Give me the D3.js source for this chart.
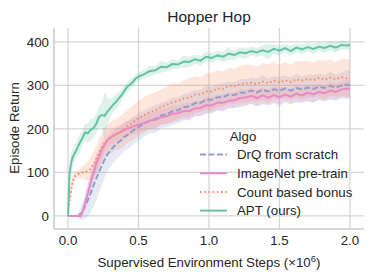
<!DOCTYPE html>
<html>
<head>
<meta charset="utf-8">
<script src="https://cdn.jsdelivr.net/npm/d3@7"></script>
<style>
  body { margin: 0; background: #fff; }
  text { font-family: "Liberation Sans", Arial, sans-serif; fill: #262626; }
</style>
</head>
<body>
<svg id="chart" width="374" height="279"></svg>
<script>
// x positions (millions of steps)
var steps = [0, 0.01, 0.02, 0.03, 0.04, 0.05, 0.06, 0.07, 0.08, 0.09, 0.1,
  0.12, 0.14, 0.16, 0.18, 0.2, 0.22, 0.24, 0.26, 0.28, 0.3, 0.32, 0.34, 0.36, 0.38, 0.4, 0.42, 0.44, 0.46, 0.48, 0.5,
  0.54, 0.58, 0.62, 0.66, 0.7, 0.74, 0.78, 0.82, 0.86, 0.9, 0.94, 0.98, 1.02, 1.06, 1.1, 1.14, 1.18, 1.22, 1.26, 1.3,
  1.34, 1.38, 1.42, 1.46, 1.5, 1.54, 1.58, 1.62, 1.66, 1.7, 1.74, 1.78, 1.82, 1.86, 1.9, 1.94, 1.98, 2.0];

var algos = ["DrQ from scratch", "ImageNet pre-train", "Count based bonus", "APT (ours)"];

var drqMean = [0, 0, 0, 0, 0, 0, 0, 0, 2, 6, 10,
  22, 36, 52, 70, 86, 102, 116, 130, 142, 150, 158, 165, 170, 175, 182, 186, 190, 196, 200, 205,
  212, 219, 223, 231, 234, 241, 243, 250, 252, 259, 260, 267, 267, 273, 273, 279, 278, 283, 284, 288,
  284, 290, 286, 291, 288, 293, 288, 294, 291, 295, 292, 297, 294, 299, 295, 300, 302, 300];
var drqSpread = [0, 0, 0, 0, 0, 2, 4, 6, 10, 15, 20,
  28, 38, 45, 50, 50, 48, 45, 42, 40, 38, 36, 35, 34, 33, 32, 32, 32, 32, 32, 32,
  30, 30, 32, 30, 30, 32, 30, 30, 32, 30, 30, 32, 30, 30, 32, 30, 30, 32, 30, 30,
  32, 34, 30, 30, 32, 30, 30, 32, 30, 30, 32, 30, 30, 32, 30, 30, 34, 32];

var imgMean = [0, 0, 0, 0, 0, 0, 0, 0, 0, 0, 8,
  28, 52, 76, 98, 120, 136, 152, 164, 175, 180, 184, 188, 191, 194, 198, 200, 203, 206, 208, 210,
  214, 219, 221, 227, 229, 235, 236, 241, 241, 247, 248, 255, 254, 261, 260, 265, 266, 271, 272, 276,
  271, 277, 272, 278, 273, 279, 274, 281, 277, 283, 280, 285, 282, 288, 285, 291, 293, 292];
var imgSpread = [0, 0, 0, 0, 0, 0, 0, 2, 4, 6, 10,
  16, 20, 22, 24, 24, 22, 22, 20, 20, 18, 18, 18, 18, 18, 18, 18, 18, 18, 18, 18,
  18, 18, 20, 18, 18, 20, 18, 18, 20, 18, 18, 20, 18, 18, 20, 18, 18, 20, 18, 18,
  20, 18, 18, 20, 22, 18, 18, 20, 18, 18, 20, 18, 18, 20, 18, 18, 20, 18];

var countMean = [15, 35, 55, 75, 88, 92, 94, 96, 97, 98, 100,
  100, 104, 108, 118, 130, 145, 158, 168, 175, 180, 184, 188, 190, 195, 200, 206, 210, 215, 220, 225,
  232, 239, 243, 251, 255, 261, 264, 270, 272, 279, 279, 286, 286, 293, 292, 299, 298, 303, 304, 306,
  303, 309, 305, 311, 307, 312, 308, 314, 311, 315, 312, 317, 313, 318, 314, 319, 316, 317];
var countSpread = [10, 15, 15, 12, 10, 8, 8, 8, 10, 12, 14,
  18, 22, 26, 30, 32, 34, 34, 35, 35, 36, 36, 36, 37, 38, 38, 38, 38, 40, 40, 40,
  42, 40, 42, 40, 42, 44, 40, 42, 44, 42, 40, 42, 44, 42, 40, 42, 40, 42, 44, 42,
  40, 42, 44, 42, 40, 42, 40, 42, 44, 42, 40, 42, 44, 42, 40, 42, 44, 42];

var aptMean = [0, 95, 120, 132, 140, 146, 152, 160, 166, 172, 178,
  192, 190, 198, 202, 212, 228, 232, 230, 240, 248, 256, 262, 270, 278, 288, 297, 302, 308, 316, 320,
  326, 333, 335, 343, 342, 349, 348, 355, 354, 360, 357, 366, 363, 369, 366, 373, 370, 376, 374, 379,
  376, 381, 377, 384, 380, 386, 379, 387, 383, 388, 384, 389, 386, 391, 387, 393, 392, 393];
var aptSpread = [0, 18, 25, 22, 20, 18, 18, 20, 20, 20, 18,
  20, 22, 25, 22, 22, 25, 28, 55, 30, 20, 18, 16, 15, 14, 12, 12, 12, 10, 10, 10,
  10, 12, 10, 13, 10, 11, 10, 14, 12, 10, 12, 10, 11, 10, 12, 14, 10, 11, 12, 10,
  10, 12, 18, 10, 11, 10, 12, 10, 11, 10, 12, 10, 11, 10, 12, 10, 10, 10];

var xTicks = [0, 0.5, 1.0, 1.5, 2.0];
var yTicks = [0, 100, 200, 300, 400];

var colors = ["#8da0cb", "#e78ac3", "#fc8d62", "#66c2a5"];
var dashes = ["6,2.5", null, "1.6,2.6", null];

var series = [
  {name: algos[0], mean: drqMean, spread: drqSpread},
  {name: algos[1], mean: imgMean, spread: imgSpread},
  {name: algos[2], mean: countMean, spread: countSpread},
  {name: algos[3], mean: aptMean, spread: aptSpread}
];

var svg = d3.select("#chart");
var pLeft = 54, pRight = 364, pTop = 28, pBottom = 229;
var fs = "13.3px";

var x = d3.scaleLinear().domain([-0.1, 2.1]).range([pLeft, pRight]);
var y = d3.scaleLinear().domain([-30, 432]).range([pBottom, pTop]);

// grid
svg.append("g").selectAll("line")
  .data(xTicks).enter().append("line")
  .attr("x1", d => x(d)).attr("x2", d => x(d))
  .attr("y1", pTop).attr("y2", pBottom)
  .attr("stroke", "#d5d5d5").attr("stroke-width", 1.3);
svg.append("g").selectAll("line")
  .data(yTicks).enter().append("line")
  .attr("y1", d => y(d)).attr("y2", d => y(d))
  .attr("x1", pLeft).attr("x2", pRight)
  .attr("stroke", "#d5d5d5").attr("stroke-width", 1.3);

// spines
svg.append("line").attr("x1", pLeft).attr("x2", pLeft).attr("y1", pTop).attr("y2", pBottom)
  .attr("stroke", "#cccccc").attr("stroke-width", 1.6);
svg.append("line").attr("x1", pLeft).attr("x2", pRight).attr("y1", pBottom).attr("y2", pBottom)
  .attr("stroke", "#cccccc").attr("stroke-width", 1.6);

// tick labels
svg.append("g").selectAll("text")
  .data(xTicks).enter().append("text")
  .attr("x", d => x(d)).attr("y", 245)
  .attr("text-anchor", "middle").style("font-size", fs)
  .text(d => d.toFixed(1));
svg.append("g").selectAll("text")
  .data(yTicks).enter().append("text")
  .attr("x", 49).attr("y", d => y(d) + 4.8)
  .attr("text-anchor", "end").style("font-size", fs)
  .text(d => d);

// bands and lines
var area = d3.area()
  .x((d, i) => x(steps[i]))
  .y0(d => y(d[0] - d[1]))
  .y1(d => y(d[0] + d[1]));
var line = d3.line()
  .x((d, i) => x(steps[i]))
  .y(d => y(d));

series.forEach(function(s, k) {
  svg.append("path")
    .datum(s.mean.map((m, i) => [m, s.spread[i]]))
    .attr("d", area)
    .attr("fill", colors[k])
    .attr("fill-opacity", 0.22);
});
series.forEach(function(s, k) {
  svg.append("path")
    .datum(s.mean)
    .attr("d", line)
    .attr("fill", "none")
    .attr("stroke", colors[k])
    .attr("stroke-width", 2)
    .attr("stroke-dasharray", dashes[k]);
});

// title and labels
svg.append("text").attr("x", 209).attr("y", 21.5)
  .attr("text-anchor", "middle").style("font-size", "15.5px")
  .text("Hopper Hop");

var xl = svg.append("text").attr("x", 209).attr("y", 267)
  .attr("text-anchor", "middle").style("font-size", fs);
xl.append("tspan").text("Supervised Environment Steps (×10");
xl.append("tspan").attr("dy", -5).style("font-size", "9.5px").text("6");
xl.append("tspan").attr("dy", 5).text(")");

svg.append("text")
  .attr("transform", "translate(19,128) rotate(-90)")
  .attr("text-anchor", "middle").style("font-size", fs)
  .text("Episode Return");

// legend
var lg = svg.append("g");
lg.append("text").attr("x", 243).attr("y", 141)
  .attr("text-anchor", "middle").style("font-size", fs).text("Algo");
var rows = lg.selectAll("g.row").data(algos).enter().append("g")
  .attr("transform", (d, i) => "translate(0," + (154.5 + i * 18.7) + ")");
rows.append("line")
  .attr("x1", 200).attr("x2", 227).attr("y1", 0).attr("y2", 0)
  .attr("stroke", (d, i) => colors[i])
  .attr("stroke-width", 2)
  .attr("stroke-dasharray", (d, i) => dashes[i]);
rows.append("text").attr("x", 237).attr("y", 4.8)
  .style("font-size", fs).text(d => d);
</script>
</body>
</html>
